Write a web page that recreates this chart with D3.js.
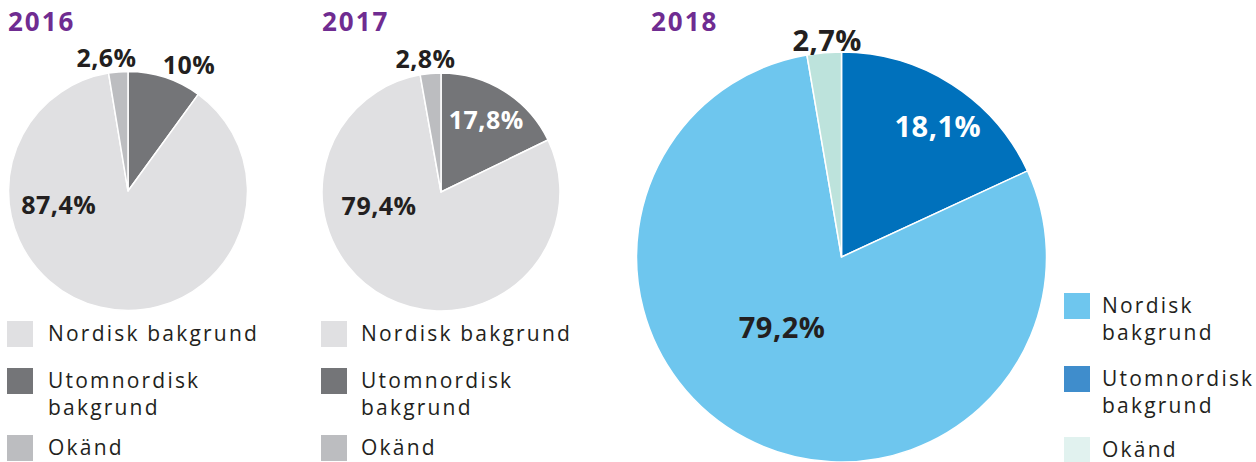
<!DOCTYPE html>
<html>
<head>
<meta charset="utf-8">
<script src="https://cdn.jsdelivr.net/npm/d3@7"></script>
<style>
  body { margin: 0; background: #fff; }
  text { font-family: "Open Sans", sans-serif; fill: #231f20; }
</style>
</head>
<body>
<script>
const [width, height] = [1256, 462];

// data
const years = ['2016', '2017', '2018'];
const categories = ['Utomnordisk bakgrund', 'Nordisk bakgrund', 'Okänd'];
const values2016 = [10, 87.4, 2.6];
const values2017 = [17.8, 79.4, 2.8];
const values2018 = [18.1, 79.2, 2.7];
const labels2016 = ['10%', '87,4%', '2,6%'];
const labels2017 = ['17,8%', '79,4%', '2,8%'];
const labels2018 = ['18,1%', '79,2%', '2,7%'];
const legendOrder = ['Nordisk bakgrund', 'Utomnordisk bakgrund', 'Okänd'];

// layout
const charts = [
  {
    year: years[0], values: values2016, labels: labels2016,
    cx: 128, cy: 191, r: 119.5, titleX: 8, fontSize: 25,
    colors: ['#747578', '#e0e0e2', '#bcbdc0'],
    legendColors: ['#e0e0e2', '#747578', '#bcbdc0'],
    labelColors: ['#231f20', '#231f20', '#231f20'],
    labelPos: [[0.51, -1.06], [-0.58, 0.11], [-0.18, -1.12]],
    legend: {x: 7, textX: 48, rows: [321, 368, 435], lines: [['Nordisk bakgrund'], ['Utomnordisk', 'bakgrund'], ['Okänd']]}
  },
  {
    year: years[1], values: values2017, labels: labels2017,
    cx: 441, cy: 192, r: 119, titleX: 322, fontSize: 25,
    colors: ['#747578', '#e0e0e2', '#bcbdc0'],
    legendColors: ['#e0e0e2', '#747578', '#bcbdc0'],
    labelColors: ['#ffffff', '#231f20', '#231f20'],
    labelPos: [[0.38, -0.61], [-0.52, 0.11], [-0.13, -1.13]],
    legend: {x: 321, textX: 361, rows: [321, 368, 435], lines: [['Nordisk bakgrund'], ['Utomnordisk', 'bakgrund'], ['Okänd']]}
  },
  {
    year: years[2], values: values2018, labels: labels2018,
    cx: 841.5, cy: 257, r: 205, titleX: 651, fontSize: 29,
    colors: ['#0071bc', '#6ec6ee', '#bde3dc'],
    legendColors: ['#6ec6ee', '#3f8dcc', '#e1f2ef'],
    labelColors: ['#ffffff', '#231f20', '#231f20'],
    labelPos: [[0.47, -0.64], [-0.29, 0.34], [-0.07, -1.06]],
    legend: {x: 1064, textX: 1102, rows: [293, 366, 437], lines: [['Nordisk', 'bakgrund'], ['Utomnordisk', 'bakgrund'], ['Okänd']]}
  }
];

const svg = d3.select('body')
  .append('svg')
  .attr('width', width)
  .attr('height', height);

const pie = d3.pie().sort(null).value(d => d);

charts.forEach(c => {
  // title
  svg.append('text')
    .attr('x', c.titleX)
    .attr('y', 31)
    .style('font-size', '26px')
    .style('font-weight', 700)
    .style('letter-spacing', '2px')
    .style('fill', '#6f2c91')
    .text(c.year);

  const g = svg.append('g')
    .attr('transform', `translate(${c.cx}, ${c.cy})`);

  const arc = d3.arc().innerRadius(0).outerRadius(c.r);

  g.selectAll('path')
    .data(pie(c.values))
    .enter()
    .append('path')
    .attr('d', arc)
    .attr('fill', (d, i) => c.colors[i])
    .attr('stroke', '#fff')
    .attr('stroke-width', 1.5)
    .attr('stroke-linejoin', 'round');

  g.selectAll('text.lbl')
    .data(c.labels)
    .enter()
    .append('text')
    .attr('class', 'lbl')
    .attr('x', (d, i) => c.labelPos[i][0] * c.r)
    .attr('y', (d, i) => c.labelPos[i][1] * c.r)
    .attr('text-anchor', 'middle')
    .attr('dominant-baseline', 'central')
    .style('font-size', `${c.fontSize}px`)
    .style('font-weight', 700)
    .style('letter-spacing', '0.5px')
    .style('fill', (d, i) => c.labelColors[i])
    .text(d => d);

  // legend
  const lg = svg.append('g');
  legendOrder.forEach((name, i) => {
    const y0 = c.legend.rows[i];
    lg.append('rect')
      .attr('x', c.legend.x)
      .attr('y', y0)
      .attr('width', 26)
      .attr('height', 26)
      .attr('fill', c.legendColors[i]);
    const t = lg.append('text')
      .attr('x', c.legend.textX)
      .attr('y', y0 + 20)
      .style('font-size', '21px')
      .style('letter-spacing', '2.2px');
    c.legend.lines[i].forEach((line, j) => {
      t.append('tspan')
        .attr('x', c.legend.textX)
        .attr('dy', j === 0 ? 0 : 27)
        .text(line);
    });
  });
});
</script>
</body>
</html>
